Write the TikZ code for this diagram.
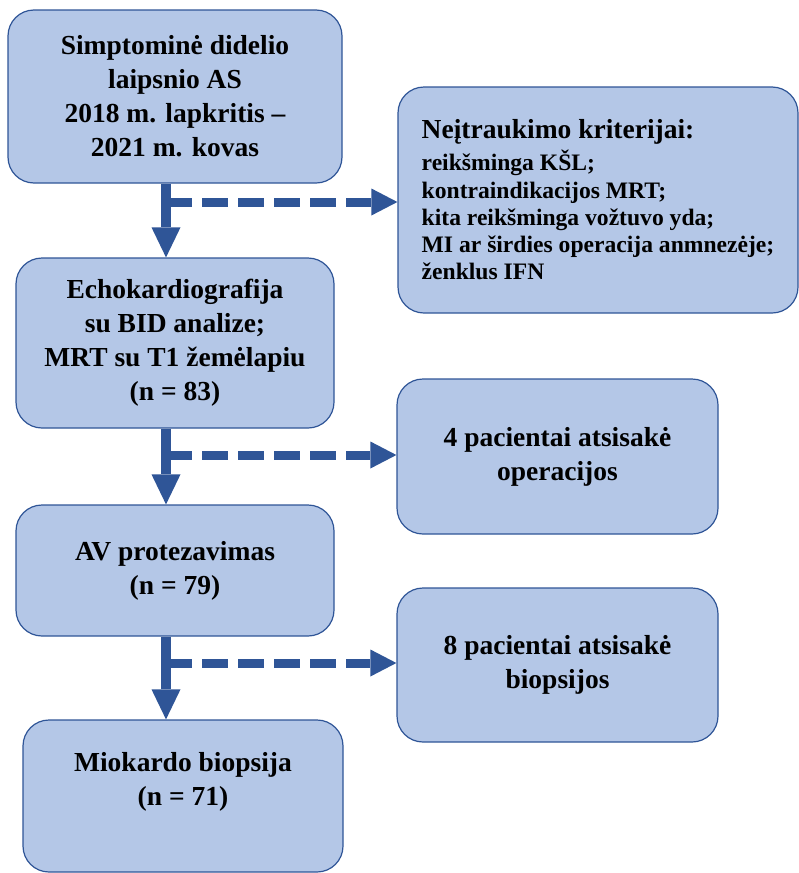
\documentclass[tikz,border=0pt]{standalone}
\usepackage{fontspec}
\setmainfont{Liberation Serif}
\usetikzlibrary{arrows.meta}
\definecolor{boxfill}{HTML}{B4C7E7}
\definecolor{boxline}{HTML}{2F5597}
\begin{document}
\begin{tikzpicture}[x=1pt,y=-1pt,
  box/.style={draw=boxline, line width=1.2pt, fill=boxfill, rounded corners=26pt, inner sep=0pt},
  main/.style={font=\fontsize{27.5}{34}\selectfont\bfseries, align=center, text=black},
  crit/.style={font=\fontsize{23.6}{27.3}\selectfont\bfseries, align=left, text=black},
  down/.style={draw=boxline, line width=10pt, -{Triangle[length=30pt,width=29pt,line width=0pt]}},
  side/.style={draw=boxline, line width=9pt, dash pattern=on 26pt off 10pt, -{Triangle[length=26pt,width=27pt,line width=0pt]}}]
\useasboundingbox (0,0) rectangle (799,873);

% main column
\node[box, main, minimum width=334pt, minimum height=173pt] (b1) at (175,96.5)
  {Simptominė didelio\\laipsnio AS\\2018 m. lapkritis --\\2021 m. kovas};
\node[box, main, minimum width=318pt, minimum height=170pt] (b2) at (175,343)
  {Echokardiografija\\su BID analize;\\MRT su T1 žemėlapiu\\(n = 83)};
\node[box, main, minimum width=318pt, minimum height=131pt] (b3) at (175,570.5)
  {AV protezavimas\\(n = 79)};
\node[box, minimum width=320pt, minimum height=152pt] (b4) at (183,796) {};
\node[main] (t4) at (183,782) {Miokardo biopsija\\(n = 71)};

% side column
\node[box, crit, minimum width=400pt, minimum height=226pt] (r1) at (598,200)
  {{\fontsize{27.5}{32}\selectfont Neįtraukimo kriterijai:}\\[4.5pt]
   reikšminga KŠL;\\kontraindikacijos MRT;\\kita reikšminga vožtuvo yda;\\MI ar širdies operacija anmnezėje;\\ženklus IFN};
\node[box, main, minimum width=321pt, minimum height=155pt] (r2) at (557.5,456.5)
  {4 pacientai atsisakė\\operacijos};
\node[box, main, minimum width=321pt, minimum height=154pt] (r3) at (557.5,665)
  {8 pacientai atsisakė\\biopsijos};

% connectors
\coordinate (ax) at (166,0);
\coordinate (j1) at (166,202);
\coordinate (j2) at (166,455);
\coordinate (j3) at (166,663);

\draw[side] (j1) -- (j1 -| r1.west);
\draw[side] (j2) -- (j2 -| r2.west);
\draw[side] (j3) -- (j3 -| r3.west);

\draw[down] (b1.south -| ax) -- (b2.north -| ax);
\draw[down] (b2.south -| ax) -- (b3.north -| ax);
\draw[down] (b3.south -| ax) -- (b4.north -| ax);
\end{tikzpicture}
\end{document}
